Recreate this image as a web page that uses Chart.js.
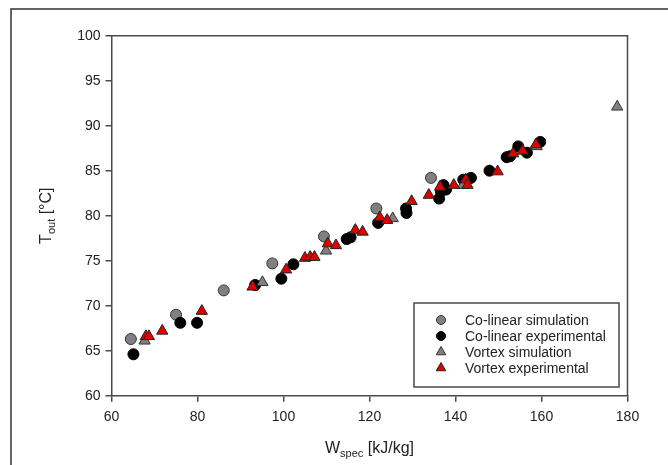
<!DOCTYPE html>
<html>
<head>
<meta charset="utf-8">
<script src="https://cdn.jsdelivr.net/npm/chart.js@4.4.0/dist/chart.umd.min.js"></script>
<style>
  html, body { margin: 0; padding: 0; background: #fff; }
  #wrap { position: relative; width: 668px; height: 465px; }
</style>
</head>
<body>
<div id="wrap"><canvas id="tempChart" width="668" height="465"></canvas></div>
<script>
// Co-linear simulation (gray circles)
const colSimX = [64.5, 75.0, 86.1, 97.4, 109.4, 121.6, 134.3];
const colSimY = [66.3, 69.0, 71.7, 74.7, 77.7, 80.8, 84.2];

// Co-linear experimental (black circles)
const colExpX = [65.1, 76.0, 79.9, 93.4, 99.5, 102.3, 114.7, 115.6, 122.0, 128.5, 128.6,
  136.2, 136.6, 137.2, 137.8, 141.8, 143.6, 147.9, 151.9, 152.7, 154.6, 156.6, 159.7];
const colExpY = [64.6, 68.1, 68.1, 72.3, 73.0, 74.6, 77.4, 77.6, 79.2, 80.8, 80.3,
  81.9, 82.7, 83.4, 82.9, 84.0, 84.2, 85.0, 86.5, 86.6, 87.7, 87.0, 88.2];

// Vortex simulation (gray triangles)
const vorSimX = [67.7, 95.1, 109.9, 125.4, 141.7, 158.9, 177.6];
const vorSimY = [66.1, 72.6, 76.1, 79.7, 83.4, 87.7, 92.1];

// Vortex experimental (red triangles)
const vorExpX = [68.0, 68.7, 71.8, 81.0, 92.8, 100.6, 105.0, 106.2, 107.2, 110.3, 112.2,
  116.7, 118.4, 122.4, 124.1, 129.8, 133.8, 136.4, 139.6, 142.4, 142.8, 149.8, 153.4, 155.6, 158.7];
const vorExpY = [66.6, 66.6, 67.2, 69.4, 72.1, 74.0, 75.3, 75.4, 75.4, 76.9, 76.7,
  78.4, 78.2, 79.8, 79.5, 81.6, 82.3, 83.2, 83.4, 84.0, 83.4, 84.9, 86.9, 87.2, 87.9];

const seriesNames = ['Co-linear simulation', 'Co-linear experimental', 'Vortex simulation', 'Vortex experimental'];

function pts(xs, ys) {
  return xs.map((x, i) => ({ x: x, y: ys[i] }));
}

const AX = '#4a4a4a';
const TXT = '#222';

// outer frame + plot box + titles + legend
const decorPlugin = {
  id: 'decor',
  beforeDraw(chart) {
    const ctx = chart.ctx;
    ctx.save();
    ctx.strokeStyle = '#333';
    ctx.lineWidth = 1.5;
    ctx.beginPath();
    ctx.moveTo(11, 470);
    ctx.lineTo(11, 9);
    ctx.lineTo(670, 9);
    ctx.stroke();
    ctx.restore();
  },
  afterDraw(chart) {
    const ctx = chart.ctx;
    const a = chart.chartArea;
    ctx.save();
    // top and right of the plot box
    ctx.strokeStyle = AX;
    ctx.lineWidth = 1.5;
    ctx.beginPath();
    ctx.moveTo(a.left, a.top);
    ctx.lineTo(a.right, a.top);
    ctx.lineTo(a.right, a.bottom);
    ctx.stroke();

    // x title: W_spec [kJ/kg]
    ctx.fillStyle = TXT;
    ctx.textBaseline = 'alphabetic';
    ctx.textAlign = 'left';
    const big = '16px Arial, "Liberation Sans", sans-serif';
    const small = '11px Arial, "Liberation Sans", sans-serif';
    ctx.font = big; const w1 = ctx.measureText('W').width;
    ctx.font = small; const w2 = ctx.measureText('spec').width;
    ctx.font = big; const w3 = ctx.measureText(' [kJ/kg]').width;
    let x0 = (a.left + a.right) / 2 - (w1 + w2 + w3) / 2;
    const by = 453;
    ctx.font = big; ctx.fillText('W', x0, by);
    ctx.font = small; ctx.fillText('spec', x0 + w1, by + 4);
    ctx.font = big; ctx.fillText(' [kJ/kg]', x0 + w1 + w2, by);

    // y title: T_out [°C]
    ctx.save();
    ctx.translate(51, (a.top + a.bottom) / 2);
    ctx.rotate(-Math.PI / 2);
    ctx.font = big; const t1 = ctx.measureText('T').width;
    ctx.font = small; const t2 = ctx.measureText('out').width;
    ctx.font = big; const t3 = ctx.measureText(' [°C]').width;
    let s0 = -(t1 + t2 + t3) / 2;
    ctx.font = big; ctx.fillText('T', s0, 0);
    ctx.font = small; ctx.fillText('out', s0 + t1, 4);
    ctx.font = big; ctx.fillText(' [°C]', s0 + t1 + t2, 0);
    ctx.restore();

    // legend box
    const lx = 414, ly = 303, lw = 205, lh = 84;
    ctx.fillStyle = '#fff';
    ctx.fillRect(lx, ly, lw, lh);
    ctx.strokeStyle = AX;
    ctx.lineWidth = 1.5;
    ctx.strokeRect(lx, ly, lw, lh);
    ctx.font = '14px Arial, "Liberation Sans", sans-serif';
    ctx.textBaseline = 'middle';
    chart.data.datasets.forEach((ds, i) => {
      const cy = 320 + i * 16;
      const cx = 441;
      ctx.fillStyle = ds.backgroundColor;
      ctx.strokeStyle = ds.borderColor;
      ctx.lineWidth = 1;
      ctx.beginPath();
      if (ds.pointStyle === 'circle') {
        ctx.arc(cx, cy, 4.5, 0, Math.PI * 2);
      } else {
        const r = 5.5;
        ctx.moveTo(cx, cy - r);
        ctx.lineTo(cx + r * 0.866, cy + r * 0.5);
        ctx.lineTo(cx - r * 0.866, cy + r * 0.5);
        ctx.closePath();
      }
      ctx.fill();
      ctx.stroke();
      ctx.fillStyle = TXT;
      ctx.fillText(ds.label, 465, cy + 1);
    });
    ctx.restore();
  }
};

const tickFont = { family: 'Arial, "Liberation Sans", sans-serif', size: 14 };

new Chart(document.getElementById('tempChart').getContext('2d'), {
  type: 'scatter',
  data: {
    datasets: [
      { label: seriesNames[0], data: pts(colSimX, colSimY), pointStyle: 'circle', pointRadius: 5.5,
        backgroundColor: '#808080', borderColor: '#333', borderWidth: 1, order: 3 },
      { label: seriesNames[1], data: pts(colExpX, colExpY), pointStyle: 'circle', pointRadius: 5.5,
        backgroundColor: '#000', borderColor: '#000', borderWidth: 1, order: 2 },
      { label: seriesNames[2], data: pts(vorSimX, vorSimY), pointStyle: 'triangle', pointRadius: 6.5,
        backgroundColor: '#808080', borderColor: '#333', borderWidth: 1, order: 1 },
      { label: seriesNames[3], data: pts(vorExpX, vorExpY), pointStyle: 'triangle', pointRadius: 6.5,
        backgroundColor: '#e00000', borderColor: '#222', borderWidth: 1, order: 0 }
    ]
  },
  options: {
    responsive: false,
    animation: false,
    events: [],
    layout: { padding: { top: 35.7, right: 40.5, left: 0, bottom: 0 } },
    plugins: { legend: { display: false }, tooltip: { enabled: false } },
    scales: {
      x: {
        type: 'linear', min: 60, max: 180,
        afterFit(s) { s.height = 465 - 395.7; },
        ticks: { stepSize: 20, color: TXT, font: tickFont, padding: 7 },
        grid: { display: true, drawOnChartArea: false, drawTicks: true, tickLength: 6, color: AX, lineWidth: 1.5 },
        border: { display: true, color: AX, width: 1.5 }
      },
      y: {
        type: 'linear', min: 60, max: 100,
        afterFit(s) { s.width = 111.5; },
        ticks: { stepSize: 5, color: TXT, font: tickFont, padding: 5 },
        grid: { display: true, drawOnChartArea: false, drawTicks: true, tickLength: 6, color: AX, lineWidth: 1.5 },
        border: { display: true, color: AX, width: 1.5 }
      }
    }
  },
  plugins: [decorPlugin]
});
</script>
</body>
</html>
